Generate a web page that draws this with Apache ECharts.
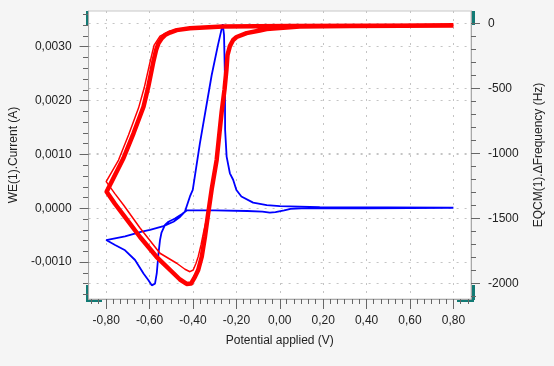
<!DOCTYPE html>
<html><head><meta charset="utf-8">
<script src="https://cdn.jsdelivr.net/npm/echarts@6/dist/echarts.min.js"></script>
<style>html,body{margin:0;padding:0;background:#f5f5f5;}#c{width:554px;height:366px;}</style>
</head><body><div id="c"></div>
<script>
// ---- tick labels ----
const xTicks = [-0.8, -0.6, -0.4, -0.2, 0.0, 0.2, 0.4, 0.6, 0.8];
const leftTicks = [-0.001, 0.0, 0.001, 0.002, 0.003];
const rightTicks = [-2000, -1500, -1000, -500, 0];

// ---- blue: WE(1).Current (A) vs potential (V) ----
const blueV = [0.80, 0.40, 0.10, 0.05, 0.02, -0.02, -0.046, -0.08, -0.15, -0.30, -0.429,
  -0.452, -0.483, -0.513, -0.529, -0.545, -0.552, -0.559, -0.567, -0.575, -0.590, -0.606, -0.628, -0.667, -0.713, -0.759, -0.800,
  -0.713, -0.636, -0.598, -0.536, -0.490, -0.460, -0.437, -0.429,
  -0.414, -0.401, -0.368, -0.314, -0.285, -0.263,
  -0.257, -0.253, -0.252, -0.245, -0.230, -0.215, -0.200, -0.177, -0.123, -0.060, 0.000, 0.184, 0.800];
const blueI = [0.00001, 0.0, 0.0, -0.00001, -0.00004, -0.00007, -0.00008, -0.00006, -0.00005, -0.00004, -0.00004,
  -0.00011, -0.00019, -0.00025, -0.00031, -0.00045, -0.00059, -0.00084, -0.00121, -0.00140, -0.00143, -0.00133, -0.00121, -0.00096, -0.00078, -0.00068, -0.00059,
  -0.00052, -0.000435, -0.00040, -0.00033, -0.00025, -0.00016, -0.00006, -0.00003,
  0.00022, 0.00034, 0.00121, 0.00247, 0.00303, 0.00342,
  0.00322, 0.00247, 0.00146, 0.00096, 0.00065, 0.00053, 0.00034, 0.00022, 0.000105, 0.00006, 0.00004, 0.00002, 0.00001];

// ---- red: EQCM(1).ΔFrequency (Hz), later cycles (thick band) ----
const redV = [0.80, 0.40, 0.046, -0.262, -0.414, -0.475, -0.506, -0.529, -0.543, -0.559, -0.570, -0.583, -0.606, -0.628, -0.674, -0.720, -0.798,
  -0.759, -0.720, -0.644, -0.567, -0.491, -0.460, -0.429, -0.409, -0.391, -0.376, -0.360, -0.345, -0.331, -0.313, -0.291, -0.268, -0.255, -0.246, -0.241, -0.230, -0.215, -0.199, -0.153, -0.092, -0.061, 0.092, 0.322, 0.80];
const redF = [-17, -18, -20, -25, -38, -52, -71, -90, -113, -154, -205, -298, -488, -642, -846, -1036, -1295,
  -1390, -1475, -1644, -1798, -1921, -1971, -2005, -2002, -1951, -1898, -1798, -1644, -1475, -1267, -1052, -682, -513, -359, -244, -175, -128, -105, -75, -55, -44, -25, -21, -17];

// ---- red: first cycle (thin line) ----
const red1V = [0.80, 0.046, -0.262, -0.414, -0.506, -0.552, -0.579, -0.598, -0.625, -0.651, -0.697, -0.743, -0.800,
  -0.760, -0.720, -0.644, -0.552, -0.475, -0.437, -0.414, -0.399, -0.386, -0.376, -0.363, -0.349, -0.331, -0.313, -0.291, -0.268, -0.255, -0.246, -0.241, -0.230, -0.215, -0.199, -0.153, -0.092, -0.061, 0.092, 0.80];
const red1F = [-17, -20, -25, -36, -59, -98, -167, -298, -498, -652, -859, -1052, -1218,
  -1310, -1398, -1575, -1769, -1846, -1892, -1911, -1898, -1846, -1795, -1705, -1590, -1460, -1267, -1052, -682, -513, -359, -244, -175, -128, -105, -75, -55, -44, -25, -17];

const zip = (a, b) => a.map((v, i) => [v, b[i]]);

const xMinor = [];
for (let k = -26; k <= 26; k++) if (k % 6 !== 0) xMinor.push(k / 30);
const leftMinor = [];
for (let k = -8; k <= 18; k++) if (k % 5 !== 0) leftMinor.push(k * 0.0002);
const rightMinor = [];
for (let k = -21; k <= 0; k++) if (k % 5 !== 0) rightMinor.push(k * 100);

const FONT = 'Liberation Sans, Arial, sans-serif';
const TXT = '#222';
const X_MIN = -0.881, X_MAX = 0.881;
const L_MIN = -0.001684, L_MAX = 0.003663;
const R_MIN = -2121, R_MAX = 95;
const gridLine = {show: true, lineStyle: {color: '#c4c4c4', type: [2, 6], width: 1}};
const G = {left: 88, right: 83, top: 11, bottom: 67};
const TICK = '#666';

const chart = echarts.init(document.getElementById('c'));
chart.setOption({
  animation: false,
  backgroundColor: '#f5f5f5',
  grid: [
    Object.assign({show: true, backgroundColor: '#fff', borderColor: '#c8c8c8', borderWidth: 1}, G),
    Object.assign({show: false}, G)
  ],
  xAxis: [
    {type: 'value', gridIndex: 0, min: X_MIN, max: X_MAX, position: 'bottom',
     name: 'Potential applied (V)', nameLocation: 'middle', nameGap: 36,
     nameTextStyle: {fontFamily: FONT, fontSize: 12, color: TXT},
     axisLine: {show: true, onZero: false, lineStyle: {color: '#a8a8a8'}},
     axisTick: {show: true, length: 10, customValues: xTicks, lineStyle: {color: TICK}},
     axisLabel: {customValues: xTicks, margin: 16, fontFamily: FONT, fontSize: 12, color: TXT,
       formatter: v => v.toFixed(2).replace('.', ',')},
     splitLine: gridLine},
    {type: 'value', gridIndex: 1, min: X_MIN, max: X_MAX, position: 'bottom',
     axisLine: {show: false, onZero: false}, axisLabel: {show: false}, splitLine: {show: false},
     axisTick: {show: true, length: 5, customValues: xMinor, lineStyle: {color: TICK}}}
  ],
  yAxis: [
    {type: 'value', gridIndex: 0, min: L_MIN, max: L_MAX, position: 'left',
     name: 'WE(1).Current (A)', nameLocation: 'middle', nameGap: 61, nameRotate: 90,
     nameTextStyle: {fontFamily: FONT, fontSize: 12, color: TXT},
     axisLine: {show: true, onZero: false, lineStyle: {color: '#a8a8a8'}},
     axisTick: {show: true, length: 9, customValues: leftTicks, lineStyle: {color: TICK}},
     axisLabel: {customValues: leftTicks, margin: 17, fontFamily: FONT, fontSize: 12, color: TXT,
       formatter: v => v.toFixed(4).replace('.', ',')},
     splitLine: gridLine},
    {type: 'value', gridIndex: 0, min: R_MIN, max: R_MAX, position: 'right',
     name: 'EQCM(1).ΔFrequency (Hz)', nameLocation: 'middle', nameGap: 62, nameRotate: 90,
     nameTextStyle: {fontFamily: FONT, fontSize: 12, color: TXT},
     axisLine: {show: true, onZero: false, lineStyle: {color: '#a8a8a8'}},
     axisTick: {show: true, length: 9, customValues: rightTicks, lineStyle: {color: TICK}},
     axisLabel: {customValues: rightTicks, margin: 17, fontFamily: FONT, fontSize: 12, color: TXT,
       formatter: v => String(Math.round(v))},
     splitLine: gridLine},
    {type: 'value', gridIndex: 1, min: L_MIN, max: L_MAX, position: 'left',
     axisLine: {show: false, onZero: false}, axisLabel: {show: false}, splitLine: {show: false},
     axisTick: {show: true, length: 5, customValues: leftMinor, lineStyle: {color: TICK}}},
    {type: 'value', gridIndex: 1, min: R_MIN, max: R_MAX, position: 'right',
     axisLine: {show: false, onZero: false}, axisLabel: {show: false}, splitLine: {show: false},
     axisTick: {show: true, length: 5, customValues: rightMinor, lineStyle: {color: TICK}}}
  ],
  series: [
    {type: 'line', xAxisIndex: 0, yAxisIndex: 0, data: zip(blueV, blueI), showSymbol: false,
     lineStyle: {color: '#0000ff', width: 1.8}, itemStyle: {color: '#0000ff'}},
    {type: 'line', xAxisIndex: 0, yAxisIndex: 1, data: zip(red1V, red1F), showSymbol: false,
     lineStyle: {color: '#ff0000', width: 1.5}, itemStyle: {color: '#ff0000'}},
    {type: 'line', xAxisIndex: 0, yAxisIndex: 1, data: zip(redV, redF), showSymbol: false,
     lineStyle: {color: '#ff0000', width: 4.5, join: 'round'}, itemStyle: {color: '#ff0000'}}
  ],
  graphic: [
    {type: 'rect', shape: {x: 86, y: 11, width: 3, height: 14}, style: {fill: '#127a74'}},
    {type: 'rect', shape: {x: 86, y: 285, width: 3, height: 15}, style: {fill: '#127a74'}},
    {type: 'rect', shape: {x: 86, y: 299, width: 16, height: 3}, style: {fill: '#127a74'}},
    {type: 'rect', shape: {x: 472, y: 11, width: 3, height: 14}, style: {fill: '#127a74'}},
    {type: 'rect', shape: {x: 472, y: 285, width: 3, height: 15}, style: {fill: '#127a74'}},
    {type: 'rect', shape: {x: 457, y: 299, width: 17, height: 3}, style: {fill: '#127a74'}}
  ]
});
</script></body></html>
